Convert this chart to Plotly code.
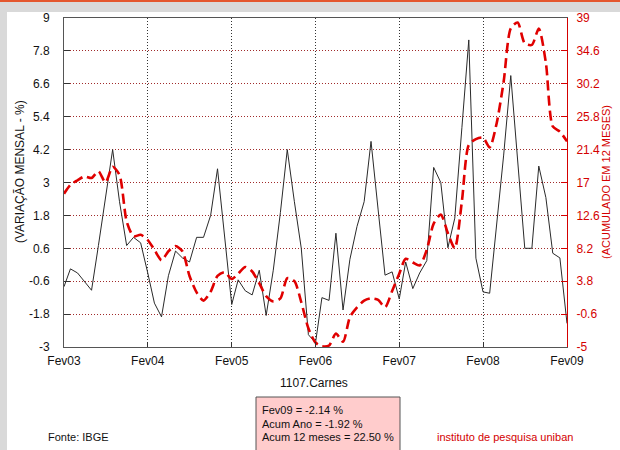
import pandas as pd
import plotly.graph_objects as go

# ---------------- data ----------------
months = pd.date_range("2003-02-01", periods=73, freq="MS")

variacao_mensal = [
    -0.8, -0.15, -0.3, -0.6, -0.93, 0.7, 2.4, 4.2, 2.3, 0.7, 1.0, 0.8,
    -0.3, -1.4, -1.9, -0.4, 0.5, 0.25, 0.1, 1.0, 1.0, 1.8, 3.5, 1.0,
    -1.45, -0.55, -0.95, -1.1, -0.2, -1.85, -0.2, 1.9, 4.2, 2.3, 0.6, -2.55,
    -2.85, -1.2, -1.3, 1.15, -1.65, 0.2, 1.4, 2.3, 4.5, 2.0, -0.38, -0.26,
    -1.25, 0.1, -0.87, -0.3, 0.15, 3.55, 3.0, 0.62, 1.7, 5.0, 8.2, 0.24,
    -0.99, -1.04, 1.5, 4.0, 6.9, 3.9, 0.6, 0.6, 3.6, 2.45, 0.42, 0.25,
    -2.14,
]

acumulado_12m = [
    15.5, 16.7, 17.3, 17.8, 17.6, 18.5, 17.0, 19.1, 18.0, 11.8, 9.8, 10.0,
    9.3, 8.0, 6.6, 7.8, 8.5, 7.8, 4.5, 2.3, 1.2, 2.4, 4.5, 5.0,
    4.1, 4.8, 5.7, 5.1, 3.5, 1.8, 1.1, 1.5, 4.2, 3.8, 1.0, -2.5,
    -4.4, -4.9, -4.8, -3.2, -4.3, -1.0, 0.3, 1.2, 1.5, 1.3, 0.3, 2.5,
    4.8, 6.8, 6.3, 5.9, 8.0, 11.5, 12.7, 10.2, 8.2, 14.5, 22.0, 22.8,
    23.0, 21.7, 25.0, 30.5, 37.6, 38.4, 35.6, 35.4, 37.6, 33.0, 24.5, 23.8,
    22.5,
]

x_tick_dates = pd.date_range("2003-02-01", periods=7, freq="12MS")
x_tick_labels = ["Fev03", "Fev04", "Fev05", "Fev06", "Fev07", "Fev08", "Fev09"]

y_left_ticks = [-3, -1.8, -0.6, 0.6, 1.8, 3, 4.2, 5.4, 6.6, 7.8, 9]
y_left_labels = ["-3", "-1.8", "-0.6", "0.6", "1.8", "3", "4.2", "5.4", "6.6", "7.8", "9"]
y_right_ticks = [-5, -0.6, 3.8, 8.2, 12.6, 17, 21.4, 25.8, 30.2, 34.6, 39]
y_right_labels = ["-5", "-0.6", "3.8", "8.2", "12.6", "17", "21.4", "25.8", "30.2", "34.6", "39"]

box_lines = ["Fev09 = -2.14 %", "Acum Ano = -1.92 %", "Acum 12 meses = 22.50 %"]

# ---------------- layout geometry (pixels) ----------------
L, R, T, B = 64, 567, 18, 347
W, H = R - L, B - T


def px(x):
    return (x - L) / W


def py(y):
    return (B - y) / H


FONT = "Liberation Sans, Arial, sans-serif"
RED = "#d40000"

fig = go.Figure()
fig.add_trace(go.Scatter(
    x=months, y=variacao_mensal, mode="lines",
    line=dict(color="#2a2a2a", width=1), yaxis="y", showlegend=False,
))
fig.add_trace(go.Scatter(
    x=months, y=acumulado_12m, mode="lines",
    line=dict(color="#e00000", width=2.6, dash="10px,5px", shape="spline", smoothing=0.7),
    yaxis="y2", showlegend=False,
))

shapes = [
    dict(type="rect", xref="paper", yref="paper", x0=px(0), x1=px(620), y0=py(12), y1=py(0),
         fillcolor="#d9d9d9", line=dict(width=0), layer="below"),
    dict(type="rect", xref="paper", yref="paper", x0=px(0), x1=px(7), y0=py(450), y1=py(0),
         fillcolor="#d9d9d9", line=dict(width=0), layer="below"),
    dict(type="rect", xref="paper", yref="paper", x0=px(0), x1=px(620), y0=py(2), y1=py(0),
         fillcolor="#e4572e", line=dict(width=0), layer="below"),
    dict(type="rect", xref="paper", yref="paper", x0=px(256), x1=px(400), y0=py(452), y1=py(397),
         fillcolor="#ffcccc", line=dict(color="#555555", width=1), layer="above"),
]

annotations = [
    dict(text="(VARIAÇÃO MENSAL - %)", xref="paper", yref="paper", x=px(20), y=py(172),
         textangle=-90, showarrow=False, font=dict(family=FONT, size=12, color="#111111"),
         xanchor="center", yanchor="middle"),
    dict(text="(ACUMULADO EM 12 MESES)", xref="paper", yref="paper", x=px(606), y=py(182),
         textangle=-90, showarrow=False, font=dict(family=FONT, size=11, color=RED),
         xanchor="center", yanchor="middle"),
    dict(text="1107.Carnes", xref="paper", yref="paper", x=px(314), y=py(383),
         showarrow=False, font=dict(family=FONT, size=12, color="#111111"),
         xanchor="center", yanchor="middle"),
    dict(text="Fonte: IBGE", xref="paper", yref="paper", x=px(46), y=py(437),
         showarrow=False, font=dict(family=FONT, size=11, color="#111111"),
         xanchor="left", yanchor="middle"),
    dict(text="instituto de pesquisa uniban", xref="paper", yref="paper", x=px(435), y=py(437),
         showarrow=False, font=dict(family=FONT, size=11, color=RED),
         xanchor="left", yanchor="middle"),
]
for line, yc in zip(box_lines, [410, 423.5, 437]):
    annotations.append(dict(text=line, xref="paper", yref="paper", x=px(260), y=py(yc),
                            showarrow=False, font=dict(family=FONT, size=11, color="#111111"),
                            xanchor="left", yanchor="middle"))

fig.update_layout(
    width=620, height=450,
    margin=dict(l=L, r=620 - R, t=T, b=450 - B, pad=0),
    paper_bgcolor="white", plot_bgcolor="white",
    font=dict(family=FONT, size=12, color="#111111"),
    shapes=shapes, annotations=annotations,
    xaxis=dict(
        range=[months[0], months[-1]], tickvals=list(x_tick_dates), ticktext=x_tick_labels,
        showgrid=True, gridcolor="rgba(0,0,0,0.8)", griddash="1px,2px", gridwidth=1,
        showline=True, linecolor="#555555", linewidth=1, mirror=True,
        ticks="inside", ticklen=5, tickcolor="#333333",
        tickfont=dict(family=FONT, size=12, color="#111111"),
        zeroline=False, automargin=False, ticklabelstandoff=3,
    ),
    yaxis=dict(
        range=[-3, 9], tickvals=y_left_ticks, ticktext=y_left_labels,
        showgrid=True, gridcolor="rgba(150,20,20,0.9)", griddash="1px,2px", gridwidth=1,
        showline=True, linecolor="#555555", linewidth=1,
        ticks="inside", ticklen=6, tickcolor="#333333",
        tickfont=dict(family=FONT, size=12, color="#111111"),
        zeroline=False, automargin=False, ticklabelstandoff=11,
    ),
    yaxis2=dict(
        range=[-5, 39], tickvals=y_right_ticks, ticktext=y_right_labels,
        overlaying="y", side="right", showgrid=False,
        showline=True, linecolor=RED, linewidth=1,
        ticks="inside", ticklen=6, tickcolor=RED,
        tickfont=dict(family=FONT, size=12, color=RED),
        zeroline=False, automargin=False, ticklabelstandoff=6,
    ),
)

fig.write_html("out.html", config={"displayModeBar": False},
               post_script="document.body.style.margin='0px';")
